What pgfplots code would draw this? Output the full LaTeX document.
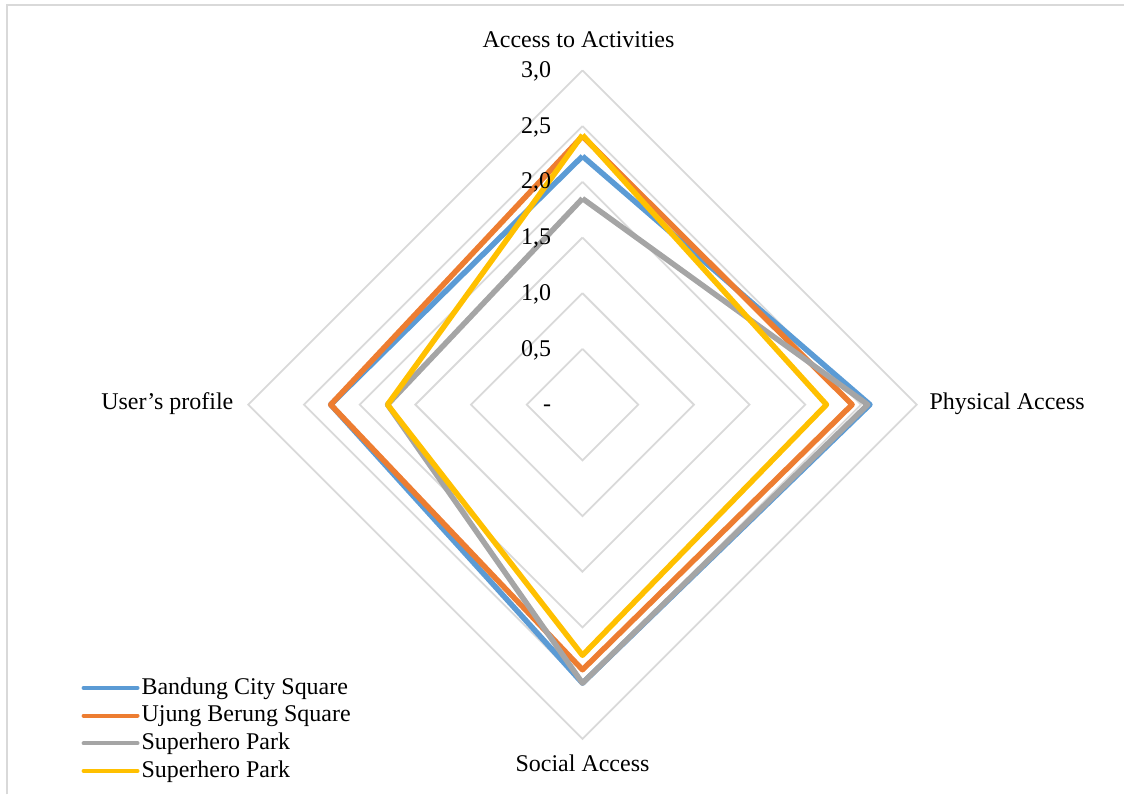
\documentclass[border=0pt]{standalone}
\usepackage{pgfplots}
\pgfplotsset{compat=1.18}
\usepackage{fontspec}
\setmainfont{Liberation Serif}
\definecolor{cBlue}{HTML}{5B9BD5}
\definecolor{cOrange}{HTML}{ED7D31}
\definecolor{cGray}{HTML}{A5A5A5}
\definecolor{cYellow}{HTML}{FFC000}
\definecolor{gridc}{HTML}{D9D9D9}
\begin{document}
\fontsize{12}{14}\selectfont
\begin{tikzpicture}
\begin{axis}[
  scale only axis,
  width=562.5pt, height=397.5pt,
  xmin=-5.2287, xmax=4.8610,
  ymin=-3.4978, ymax=3.6323,
  axis lines=none,
  ticks=none,
  clip=false,
  legend style={
    at={(axis cs:-4.50,-2.415)}, anchor=north west,
    draw=none, fill=none, inner sep=0pt, row sep=0pt,
    font=\fontsize{12}{14}\selectfont,
    nodes={inner sep=1pt, text height=9pt, text depth=2.85pt},
    /tikz/every even column/.append style={column sep=0pt},
  },
  legend cell align=left,
  legend image code/.code={\draw[#1, line width=2pt, line cap=round] (0pt,0pt) -- (27pt,0pt);},
]
% full page bounding box
\path (rel axis cs:0,0) rectangle (rel axis cs:1,1);
% outer frame (top and left)
\draw[gridc, line width=1pt] (axis cs:-5.170,-3.4978) -- (axis cs:-5.170,3.587) -- (axis cs:4.861,3.587);
% diamond grid
\addplot[gridc, line width=0.9pt, forget plot] coordinates {(0,0.5) (0.5,0) (0,-0.5) (-0.5,0) (0,0.5)};
\addplot[gridc, line width=0.9pt, forget plot] coordinates {(0,1.0) (1.0,0) (0,-1.0) (-1.0,0) (0,1.0)};
\addplot[gridc, line width=0.9pt, forget plot] coordinates {(0,1.5) (1.5,0) (0,-1.5) (-1.5,0) (0,1.5)};
\addplot[gridc, line width=0.9pt, forget plot] coordinates {(0,2.0) (2.0,0) (0,-2.0) (-2.0,0) (0,2.0)};
\addplot[gridc, line width=0.9pt, forget plot] coordinates {(0,2.5) (2.5,0) (0,-2.5) (-2.5,0) (0,2.5)};
\addplot[gridc, line width=0.9pt, forget plot] coordinates {(0,3.0) (3.0,0) (0,-3.0) (-3.0,0) (0,3.0)};
% data: (0,top) (right,0) (0,-bottom) (-left,0)
\addplot[cBlue, line width=2.75pt, line join=round] coordinates {(0,2.23) (2.58,0) (0,-2.50) (-2.26,0) (0,2.23)};
\addlegendentry{Bandung City Square}
\addplot[cOrange, line width=2.75pt, line join=round] coordinates {(0,2.41) (2.42,0) (0,-2.38) (-2.26,0) (0,2.41)};
\addlegendentry{Ujung Berung Square}
\addplot[cGray, line width=2.75pt, line join=round] coordinates {(0,1.85) (2.56,0) (0,-2.50) (-1.75,0) (0,1.85)};
\addlegendentry{Superhero Park}
\addplot[cYellow, line width=2.75pt, line join=round] coordinates {(0,2.42) (2.19,0) (0,-2.25) (-1.75,0) (0,2.42)};
\addlegendentry{Superhero Park}
% tick labels
\node[anchor=mid east, inner sep=0pt] at (axis cs:-0.278,2.985) {3,0};
\node[anchor=mid east, inner sep=0pt] at (axis cs:-0.278,2.485) {2,5};
\node[anchor=mid east, inner sep=0pt] at (axis cs:-0.278,1.985) {2,0};
\node[anchor=mid east, inner sep=0pt] at (axis cs:-0.278,1.485) {1,5};
\node[anchor=mid east, inner sep=0pt] at (axis cs:-0.278,0.985) {1,0};
\node[anchor=mid east, inner sep=0pt] at (axis cs:-0.278,0.485) {0,5};
\node[anchor=mid east, inner sep=0pt] at (axis cs:-0.278,-0.015) {-};
% category labels
\node[anchor=base, inner sep=0pt] at (axis cs:-0.036,3.206) {Access to Activities};
\node[anchor=base west, inner sep=0pt] at (axis cs:3.112,-0.045) {Physical Access};
\node[anchor=base, inner sep=0pt] at (axis cs:0,-3.289) {Social Access};
\node[anchor=base east, inner sep=0pt] at (axis cs:-3.130,-0.045) {User’s profile};
\end{axis}
\end{tikzpicture}
\end{document}
